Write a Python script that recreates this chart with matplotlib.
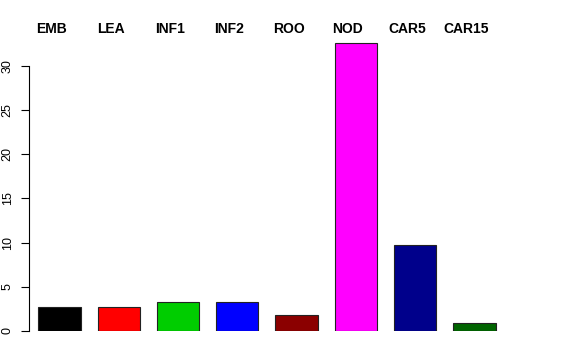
"""Bar chart of per-tissue values, labels written above the plot."""

import matplotlib

matplotlib.use("Agg")
import matplotlib.pyplot as plt
import numpy as np

labels = ["EMB", "LEA", "INF1", "INF2", "ROO", "NOD", "CAR5", "CAR15"]
values = [2.75, 2.68, 3.32, 3.30, 1.81, 32.58, 9.73, 0.94]
colors = ["#000000", "#FF0000", "#00CD00", "#0000FF",
          "#8B0000", "#FF00FF", "#00008B", "#006400"]

plt.rcParams["font.family"] = ["Liberation Sans", "DejaVu Sans"]

fig = plt.figure(figsize=(5.76, 3.6), dpi=100)
ax = fig.add_axes([29 / 576, 29 / 360, 475 / 576, 291.8 / 360])

# R-style layout: bar width 1, space 0.4
x = 0.4 + 1.4 * np.arange(len(values)) + 0.5
ax.bar(x, values, width=1.0, color=colors, edgecolor="#222222", linewidth=0.8)

ax.set_xlim(0.18, 11.4)
ax.set_ylim(0, 33)
ax.set_yticks(range(0, 31, 5))
ax.tick_params(axis="y", length=6, width=0.8, pad=5, labelsize=9)
for t in ax.get_yticklabels():
    t.set_rotation(90)
    t.set_va("center")
ax.set_xticks([])
for s in ["top", "right", "bottom"]:
    ax.spines[s].set_visible(False)
ax.spines["left"].set_bounds(0, 30)
ax.spines["left"].set_linewidth(0.8)

for xi, lab in zip(x, labels):
    ax.text(xi - 0.19, 34.2, lab, ha="center", va="center",
            fontsize=10, fontweight="bold", clip_on=False)

fig.savefig("out.png", dpi=100)
